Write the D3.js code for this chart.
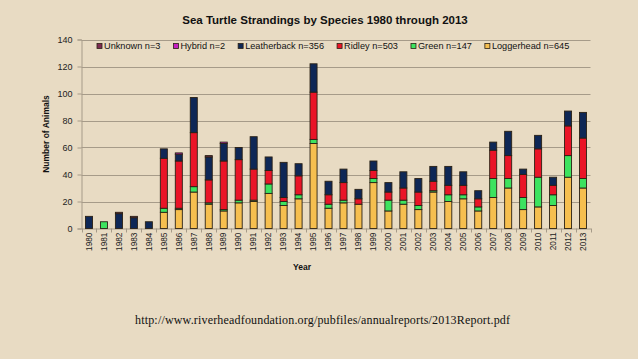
<!DOCTYPE html>
<html>
<head>
<meta charset="utf-8">
<script src="https://cdn.jsdelivr.net/npm/d3@7/dist/d3.min.js"></script>
<style>
  html, body { margin: 0; padding: 0; background: #e8dbc3; }
  svg { display: block; font-family: "Liberation Sans", Arial, sans-serif; }
</style>
</head>
<body>
<svg id="chart" width="638" height="359"></svg>
<script>
const years = ["1980","1981","1982","1983","1984","1985","1986","1987","1988","1989","1990","1991","1992","1993","1994","1995","1996","1997","1998","1999","2000","2001","2002","2003","2004","2005","2006","2007","2008","2009","2010","2011","2012","2013"];
const loggerhead  = [0,0,0,0,0,12,14,27,18,13,19,20,26,17,22,63,15,19,18,34,13,18,14,27,20,22,13,23,30,14,16,17,38,30];
const green       = [0,5,0,0,0,3,1,4,1,1,2,1,7,3,3,3,3,2,0,3,8,3,3,1,5,3,3,14,7,9,22,8,16,7];
const ridley      = [0,0,0,0,0,37,35,40,17,36,30,23,10,3,14,35,7,13,4,6,6,9,10,7,7,7,6,21,17,17,21,7,22,30];
const leatherback = [9,0,11,8,5,7,5,26,17,13,9,24,10,26,9,21,10,10,7,7,7,12,10,11,14,10,6,6,18,4,10,6,11,19];
const hybrid      = [0,0,0,0,0,0,1,0,0,1,0,0,0,0,0,0,0,0,0,0,0,0,0,0,0,0,0,0,0,0,0,0,0,0];
const unknown     = [0,0,1,1,0,0,0,0,1,0,0,0,0,0,0,0,0,0,0,0,0,0,0,0,0,0,0,0,0,0,0,0,0,0];
const yTicks = [0,20,40,60,80,100,120,140];

const seriesKeys   = ["Loggerhead","Green","Ridley","Leatherback","Hybrid","Unknown"];
const seriesValues = [loggerhead, green, ridley, leatherback, hybrid, unknown];
const legendKeys   = ["Unknown","Hybrid","Leatherback","Ridley","Green","Loggerhead"];
const legendLabels = ["Unknown n=3","Hybrid n=2","Leatherback n=356","Ridley n=503","Green n=147","Loggerhead n=645"];
const colors = {
  Loggerhead: "#f6bf4f",
  Green: "#3de35f",
  Ridley: "#ea1427",
  Leatherback: "#0e2756",
  Hybrid: "#c51fc2",
  Unknown: "#7d2c52"
};

const table = years.map((y, i) => {
  const row = { year: y };
  seriesKeys.forEach((k, j) => row[k] = seriesValues[j][i]);
  return row;
});

const svg = d3.select("#chart");
const plot = { left: 81.5, right: 590.5, top: 39.5, bottom: 228.5 };

const x = d3.scaleBand().domain(years).range([plot.left, plot.right])
  .paddingInner(0.53).paddingOuter(0.265);
const y = d3.scaleLinear().domain([0, 140]).range([plot.bottom, plot.top]);

// gridlines
svg.append("g").selectAll("line").data(yTicks.filter(t => t > 0)).join("line")
  .attr("x1", plot.left).attr("x2", plot.right)
  .attr("y1", d => Math.round(y(d)) + 0.5).attr("y2", d => Math.round(y(d)) + 0.5)
  .attr("stroke", "#a69b89").attr("stroke-width", 1);

// y axis
const yAxis = svg.append("g").attr("transform", `translate(${plot.left},0)`)
  .call(d3.axisLeft(y).tickValues(yTicks).tickSize(4).tickPadding(5));
yAxis.select(".domain").attr("stroke", "#a69b89");
yAxis.selectAll(".tick line").attr("stroke", "#a69b89");
yAxis.selectAll(".tick text").attr("font-size", "9px").attr("fill", "#222")
  .attr("font-family", "Liberation Sans, Arial, sans-serif");

// x axis
const xAxis = svg.append("g").attr("transform", `translate(0,${plot.bottom})`)
  .call(d3.axisBottom(x).tickSize(0).tickPadding(4));
xAxis.select(".domain").attr("stroke", "#a69b89");
xAxis.selectAll(".tick text")
  .attr("font-size", "8.3px").attr("fill", "#222")
  .attr("font-family", "Liberation Sans, Arial, sans-serif")
  .attr("transform", "rotate(-90)")
  .attr("text-anchor", "end")
  .attr("x", -4).attr("y", 0).attr("dy", "0.33em");
// tick marks between categories
svg.append("g").selectAll("line").data(years.concat(["end"])).join("line")
  .attr("x1", (d, i) => Math.round(plot.left + i * x.step()) + 0.5)
  .attr("x2", (d, i) => Math.round(plot.left + i * x.step()) + 0.5)
  .attr("y1", plot.bottom).attr("y2", plot.bottom + 4)
  .attr("stroke", "#a69b89");

// bars
const stack = d3.stack().keys(seriesKeys)(table);
svg.append("g").selectAll("g").data(stack).join("g")
  .attr("fill", d => colors[d.key])
  .selectAll("rect").data(d => d.filter(s => s[1] - s[0] > 0)).join("rect")
  .attr("x", d => x(d.data.year))
  .attr("width", x.bandwidth())
  .attr("y", d => y(d[1]))
  .attr("height", d => y(d[0]) - y(d[1]))
  .attr("stroke", "#2a2114").attr("stroke-width", 0.9);

// title
svg.append("text").attr("x", 325).attr("y", 24).attr("text-anchor", "middle")
  .attr("font-size", "11.5px").attr("font-weight", "bold").attr("fill", "#111")
  .text("Sea Turtle Strandings by Species 1980 through 2013");

// legend
const legend = svg.append("g");
let lx = 97;
legendKeys.forEach((k, i) => {
  const g = legend.append("g").attr("transform", `translate(${lx},46)`);
  g.append("rect").attr("x", 0).attr("y", -2.5).attr("width", 5).attr("height", 5)
    .attr("fill", colors[k]).attr("stroke", "#2a2114").attr("stroke-width", 0.8);
  const t = g.append("text").attr("x", 7).attr("y", 0).attr("dy", "0.35em")
    .attr("font-size", "9.2px").attr("fill", "#111").text(legendLabels[i]);
  lx += 7 + t.node().getComputedTextLength() + 13;
});

// axis titles
svg.append("text").attr("transform", "translate(46,134) rotate(-90)")
  .attr("text-anchor", "middle").attr("dy", "0.35em")
  .attr("font-size", "8.5px").attr("font-weight", "bold").attr("fill", "#111")
  .text("Number of Animals");
svg.append("text").attr("x", 302).attr("y", 270).attr("text-anchor", "middle")
  .attr("font-size", "8.5px").attr("font-weight", "bold").attr("fill", "#111")
  .text("Year");

// source url
svg.append("text").attr("x", 135).attr("y", 324)
  .attr("font-family", "Liberation Serif, Times New Roman, serif")
  .attr("font-size", "12px").attr("fill", "#111")
  .attr("textLength", 375).attr("lengthAdjust", "spacing")
  .text("http://www.riverheadfoundation.org/pubfiles/annualreports/2013Report.pdf");
</script>
</body>
</html>
